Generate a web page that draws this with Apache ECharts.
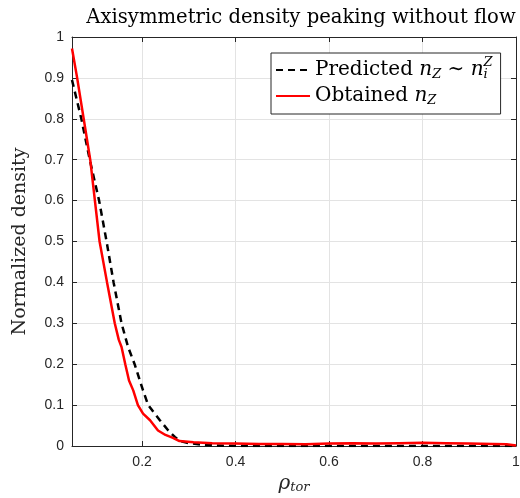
<!DOCTYPE html>
<html>
<head>
<meta charset="utf-8">
<script src="https://cdn.jsdelivr.net/npm/echarts@6/dist/echarts.min.js"></script>
<style>html,body{margin:0;padding:0;background:#fff}#c{width:520px;height:498px}</style>
</head>
<body>
<div id="c"></div>
<script>
// Data
const predictedX = [0.05, 0.070, 0.088, 0.108, 0.124, 0.139, 0.156, 0.170, 0.184, 0.202, 0.213, 0.227, 0.238, 0.256, 0.270, 0.281, 0.300, 0.330, 0.360, 0.400, 0.500, 0.600, 0.700, 0.800, 0.900, 1.000];
const predictedY = [0.895, 0.80, 0.70, 0.60, 0.50, 0.40, 0.30, 0.242, 0.20, 0.136, 0.10, 0.079, 0.063, 0.038, 0.022, 0.012, 0.007, 0.003, 0.001, 0, 0, 0, 0, 0, 0, 0];
const obtainedX = [0.05, 0.061, 0.075, 0.089, 0.099, 0.109, 0.125, 0.1415, 0.150, 0.156, 0.164, 0.172, 0.181, 0.191, 0.202, 0.217, 0.234, 0.250, 0.266, 0.280, 0.310, 0.350, 0.400, 0.450, 0.500, 0.550, 0.600, 0.650, 0.700, 0.750, 0.800, 0.850, 0.900, 0.950, 0.980, 1.000];
const obtainedY = [0.972, 0.90, 0.80, 0.70, 0.60, 0.50, 0.40, 0.30, 0.26, 0.242, 0.20, 0.16, 0.136, 0.10, 0.079, 0.063, 0.038, 0.027, 0.020, 0.012, 0.009, 0.007, 0.006, 0.005, 0.005, 0.004, 0.006, 0.007, 0.006, 0.007, 0.008, 0.007, 0.006, 0.005, 0.004, 0.001];
const seriesNames = ['Predicted', 'Obtained'];
const titleText = 'Axisymmetric density peaking without flow';
const yAxisTitle = 'Normalized density';
const xMin = 0.05, xMax = 1, yMin = 0, yMax = 1;

const serif = 'DejaVu Serif';
const sans = 'Liberation Sans';
const axisCol = '#262626';
const gridCol = '#e3e3e3';

const chart = echarts.init(document.getElementById('c'), null, {renderer: 'canvas'});
const zip = (xs, ys) => xs.map((x, i) => [x, ys[i]]);

const richLegend = {
  t: {fontFamily: serif, fontSize: 20, color: '#000', lineHeight: 28, verticalAlign: 'middle'},
  m: {fontFamily: serif, fontStyle: 'italic', fontSize: 20, color: '#000', lineHeight: 28, verticalAlign: 'middle'},
  sub: {fontFamily: serif, fontStyle: 'italic', fontSize: 13, color: '#000', lineHeight: 28, verticalAlign: 'bottom', padding: [0, 0, 3, 0]},
  subn: {fontFamily: serif, fontStyle: 'italic', fontSize: 13, color: '#000', lineHeight: 28, verticalAlign: 'bottom', padding: [0, 0, 3, 0], width: 0},
  sup: {fontFamily: serif, fontStyle: 'italic', fontSize: 13, color: '#000', lineHeight: 28, verticalAlign: 'top', padding: [0, 0, 0, 0]}
};

chart.setOption({
  animation: false,
  backgroundColor: '#fff',
  title: {
    text: titleText, left: 296, top: 3, textAlign: 'center',
    textStyle: {fontFamily: serif, fontWeight: 'normal', fontSize: 19.6, color: '#000'}
  },
  grid: {left: 72, right: 4, top: 37, bottom: 52, containLabel: false, outerBoundsMode: 'none'},
  legend: {
    orient: 'vertical', left: 271, top: 53,
    backgroundColor: '#fff', borderColor: axisCol, borderWidth: 1,
    padding: [3, 8, 4, 4], itemGap: 2, itemWidth: 34, itemHeight: 14,
    itemStyle: {opacity: 0},
    data: seriesNames,
    formatter: function (name) {
      if (name === 'Predicted') return '{t|Predicted }{m|n}{sub|Z}{t| ∼ }{m|n}{subn|i}{sup|Z}';
      return '{t|Obtained }{m|n}{sub|Z}';
    },
    textStyle: {rich: richLegend}
  },
  xAxis: [{
    type: 'value', min: xMin, max: xMax, splitNumber: 5,
    name: '{i|ρ}{s|tor}', nameLocation: 'middle', nameGap: 28,
    nameTextStyle: {rich: {
      i: {fontFamily: serif, fontStyle: 'italic', fontSize: 20, color: axisCol, verticalAlign: 'middle', lineHeight: 20},
      s: {fontFamily: serif, fontStyle: 'italic', fontSize: 13, color: axisCol, verticalAlign: 'bottom', lineHeight: 20}
    }},
    axisLine: {show: true, onZero: false, lineStyle: {color: axisCol, width: 1}},
    axisTick: {show: true, inside: true, length: 5, lineStyle: {color: axisCol}},
    axisLabel: {showMinLabel: false, fontFamily: sans, fontSize: 14, color: axisCol, margin: 9,
      formatter: v => String(+v.toFixed(2))},
    splitLine: {show: true, lineStyle: {color: gridCol, width: 1}}
  }, {
    type: 'value', position: 'top', min: xMin, max: xMax, splitNumber: 5,
    axisLine: {show: true, onZero: false, lineStyle: {color: axisCol, width: 1}},
    axisTick: {show: true, inside: true, length: 5, lineStyle: {color: axisCol}},
    axisLabel: {show: false}, splitLine: {show: false}
  }],
  yAxis: [{
    type: 'value', min: yMin, max: yMax, interval: 0.1,
    name: yAxisTitle, nameLocation: 'middle', nameGap: 42,
    nameTextStyle: {fontFamily: serif, fontSize: 19, color: axisCol},
    axisLine: {show: true, onZero: false, lineStyle: {color: axisCol, width: 1}},
    axisTick: {show: true, inside: true, length: 5, lineStyle: {color: axisCol}},
    axisLabel: {fontFamily: sans, fontSize: 14, color: axisCol, margin: 8,
      formatter: v => String(+v.toFixed(1))},
    splitLine: {show: true, lineStyle: {color: gridCol, width: 1}}
  }, {
    type: 'value', position: 'right', min: yMin, max: yMax, interval: 0.1,
    axisLine: {show: true, onZero: false, lineStyle: {color: axisCol, width: 1}},
    axisTick: {show: true, inside: true, length: 5, lineStyle: {color: axisCol}},
    axisLabel: {show: false}, splitLine: {show: false}
  }],
  series: [{
    name: seriesNames[0], type: 'line', xAxisIndex: 0, yAxisIndex: 0,
    data: zip(predictedX, predictedY), symbol: 'none', smooth: false,
    lineStyle: {color: '#000', width: 2.5, type: [7, 5]}, itemStyle: {color: '#000'}, z: 3
  }, {
    name: seriesNames[1], type: 'line', xAxisIndex: 0, yAxisIndex: 0,
    data: zip(obtainedX, obtainedY), symbol: 'none', smooth: false,
    lineStyle: {color: '#ff0000', width: 2.5}, itemStyle: {color: '#ff0000'}, z: 4
  }]
});
</script>
</body>
</html>
